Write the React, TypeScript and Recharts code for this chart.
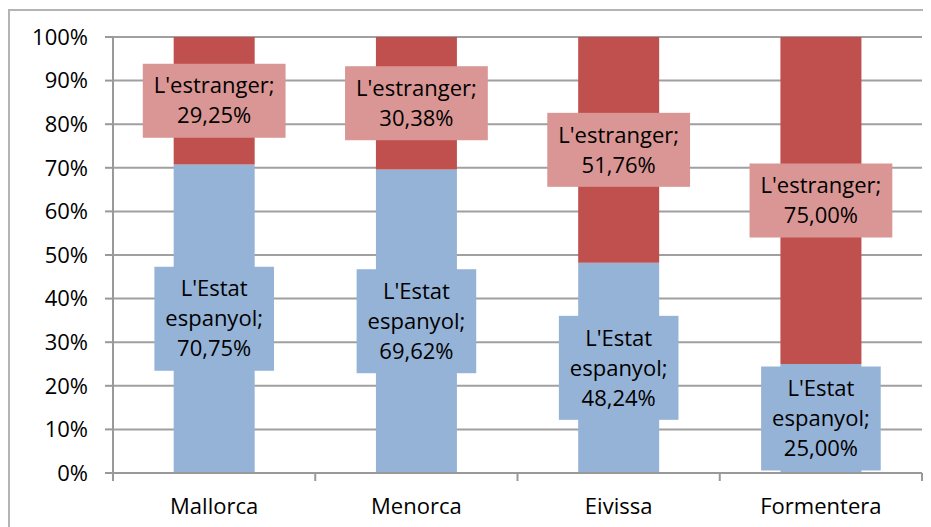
import React from 'react';
import { BarChart, Bar, XAxis, YAxis, CartesianGrid, LabelList } from 'recharts';

const islands = ['Mallorca', 'Menorca', 'Eivissa', 'Formentera'];
const estatEspanyol = [70.75, 69.62, 48.24, 25.0];
const estranger = [29.25, 30.38, 51.76, 75.0];
const yTicks = [0, 10, 20, 30, 40, 50, 60, 70, 80, 90, 100];

const FONT = '"Open Sans", sans-serif';
const FONT_SIZE = 22;
const LINE_H = 30;

const data = islands.map((name, i) => ({
  name,
  estat: estatEspanyol[i],
  estranger: estranger[i],
}));

let ctx: CanvasRenderingContext2D | null = null;
const measure = (s: string) => {
  if (!ctx) {
    ctx = document.createElement('canvas').getContext('2d');
  }
  if (!ctx) return s.length * FONT_SIZE * 0.55;
  ctx.font = `${FONT_SIZE}px ${FONT}`;
  return ctx.measureText(s).width;
};

const fmt = (v: number) => v.toFixed(2).replace('.', ',') + '%';

// data label drawn as a filled box centred on the segment
const boxLabel = (lines: string[], fill: string) => (props: any) => {
  const { x, y, width, height, value } = props;
  const all = [...lines, fmt(Number(value))];
  const w = Math.max(...all.map(measure)) + 22;
  const h = all.length * LINE_H + 14;
  const cx = x + width / 2;
  const cy = y + height / 2;
  return (
    <g>
      <rect x={cx - w / 2} y={cy - h / 2} width={w} height={h} fill={fill} />
      {all.map((t, i) => (
        <text
          key={i}
          x={cx}
          y={cy - h / 2 + 7 + LINE_H * i + LINE_H / 2}
          dy="0.35em"
          textAnchor="middle"
          fontFamily={FONT}
          fontSize={FONT_SIZE}
          fill="#000"
        >
          {t}
        </text>
      ))}
    </g>
  );
};

// category tick: label centred, tick marks at category boundaries
const CategoryTick = (props: any) => {
  const { x, y, payload, index, width, visibleTicksCount } = props;
  const half = payload && payload.offset ? payload.offset : width / (visibleTicksCount || 4) / 2;
  return (
    <g>
      <line x1={x - half} y1={y} x2={x - half} y2={y + 8} stroke="#999" strokeWidth={2} />
      {index === (visibleTicksCount || 4) - 1 && (
        <line x1={x + half} y1={y} x2={x + half} y2={y + 8} stroke="#999" strokeWidth={2} />
      )}
      <text
        x={x}
        y={y + 25}
        dy="0.71em"
        textAnchor="middle"
        fontFamily={FONT}
        fontSize={FONT_SIZE}
        fill="#000"
      >
        {payload.value}
      </text>
    </g>
  );
};

export default function App() {
  return (
    <div style={{ position: 'relative', width: 923, height: 519 }}>
      <div
        style={{
          position: 'absolute',
          left: 0,
          top: 1,
          width: 940,
          height: 540,
          borderLeft: '2px solid #B4B4B4',
          borderTop: '2px solid #B4B4B4',
          boxSizing: 'border-box',
        }}
      />
      <BarChart
        width={923}
        height={519}
        data={data}
        margin={{ top: 29, right: 9, bottom: 0, left: 0 }}
        barCategoryGap="30%"
        style={{ position: 'absolute', left: 0, top: 0 }}
      >
        <CartesianGrid vertical={false} stroke="#A0A0A0" strokeWidth={2} />
        <XAxis
          dataKey="name"
          height={54}
          tickLine={false}
          tickSize={0}
          tickMargin={0}
          axisLine={{ stroke: '#999', strokeWidth: 2 }}
          tick={<CategoryTick />}
          interval={0}
        />
        <YAxis
          width={105}
          domain={[0, 100]}
          ticks={yTicks}
          interval={0}
          tickSize={8}
          tickMargin={17}
          tickLine={{ stroke: '#999', strokeWidth: 2 }}
          axisLine={{ stroke: '#999', strokeWidth: 2 }}
          tickFormatter={(v) => `${v}%`}
          tick={{ fill: '#000', fontSize: FONT_SIZE, fontFamily: FONT }}
        />
        <Bar dataKey="estat" stackId="a" fill="#95B3D7" isAnimationActive={false}>
          <LabelList dataKey="estat" content={boxLabel(["L'Estat", 'espanyol;'], '#95B3D7')} />
        </Bar>
        <Bar dataKey="estranger" stackId="a" fill="#C0504D" isAnimationActive={false}>
          <LabelList dataKey="estranger" content={boxLabel(["L'estranger;"], '#D99694')} />
        </Bar>
      </BarChart>
    </div>
  );
}
